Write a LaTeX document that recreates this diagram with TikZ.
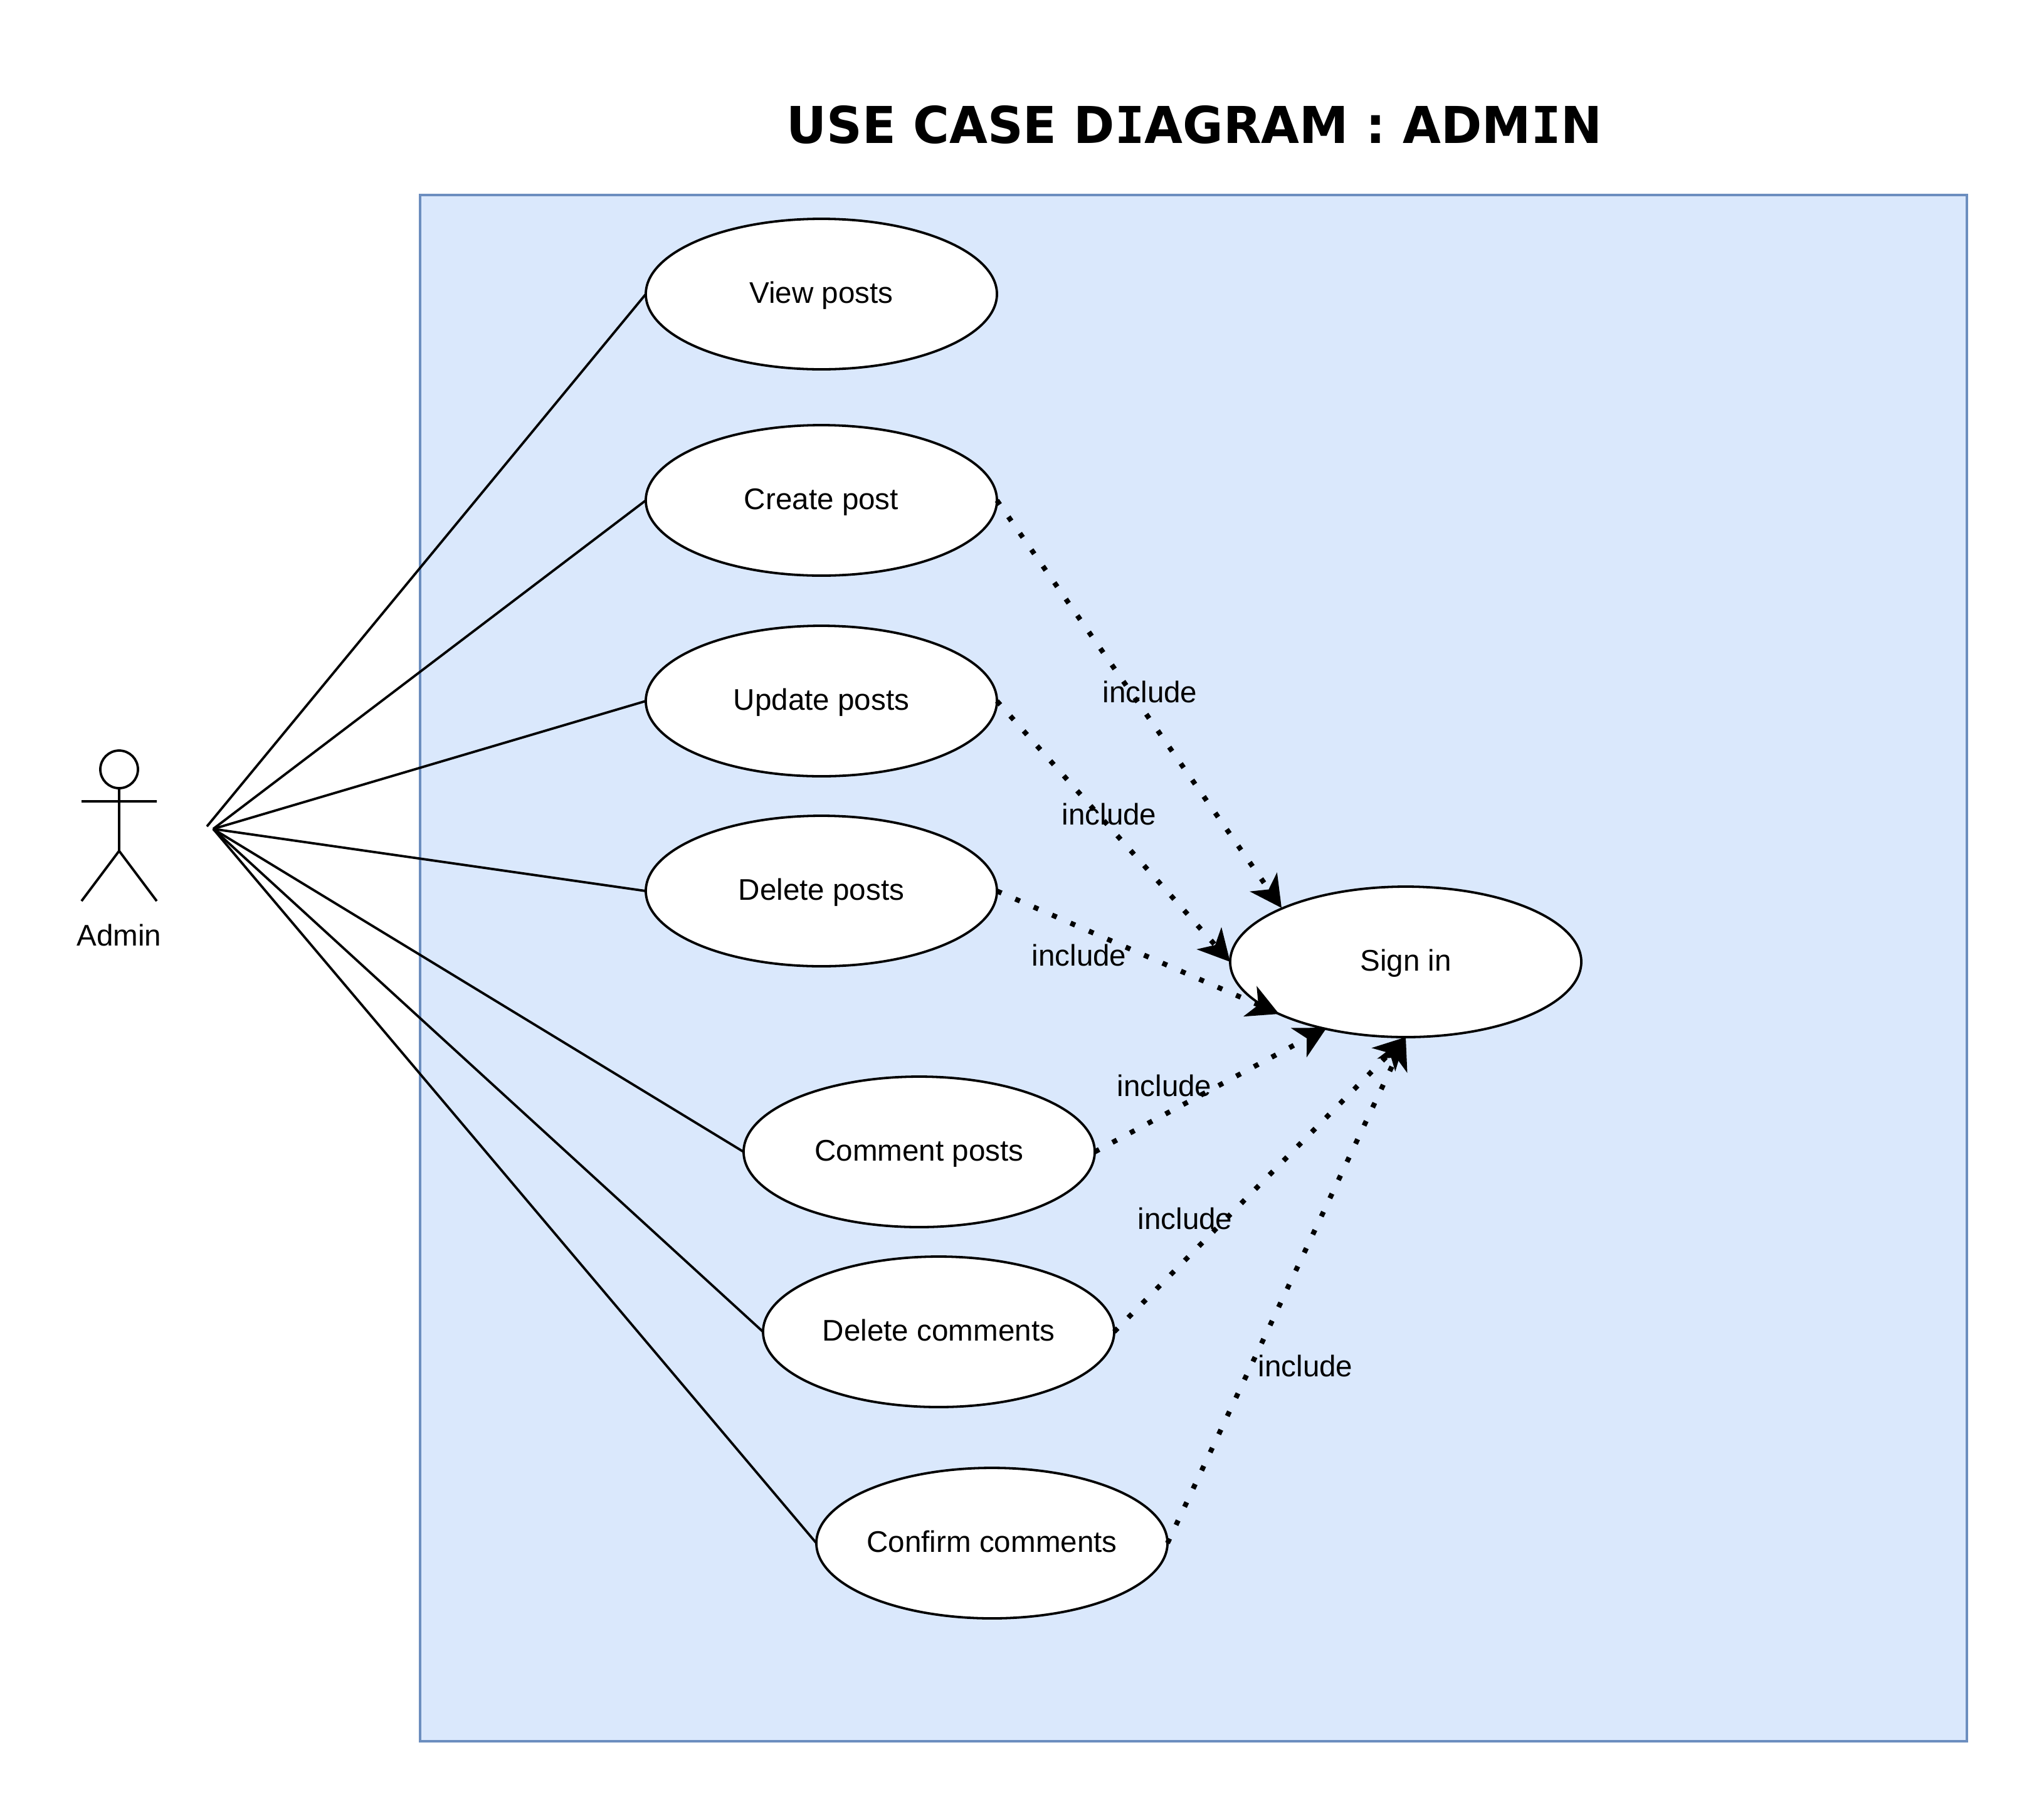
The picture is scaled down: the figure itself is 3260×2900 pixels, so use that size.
\documentclass[tikz,border=0pt]{standalone}
\usepackage{fontspec}
\setmainfont{Liberation Sans}
\newfontfamily\titlefont{DejaVu Sans}[BoldFont={DejaVu Sans Bold}]
\newfontfamily\titlemono{DejaVu Sans Mono}[BoldFont={DejaVu Sans Mono Bold}]
\newcommand{\serifI}{{\titlemono\bfseries I}}
\usetikzlibrary{arrows.meta,shapes.geometric}
\definecolor{boxfill}{HTML}{DAE8FC}
\definecolor{boxline}{HTML}{6C8EBF}
\tikzset{
  usecase/.style={draw, ellipse, fill=white, minimum width=560pt, minimum height=240pt, inner xsep=-20pt, inner ysep=0pt, outer sep=0pt, text height=34pt, text depth=6pt, font=\fontsize{47.6}{56}\selectfont},
  assoc/.style={line width=3.8pt},
  incl/.style={line width=8pt, dash pattern=on 8pt off 24pt, -{Stealth[length=50pt,width=52pt,inset=14pt]}},
  incllabel/.style={font=\fontsize{47.6}{56}\selectfont, inner sep=0pt}
}

\begin{document}
\begin{tikzpicture}[x=1pt, y=-1pt, line width=3.8pt]
        \useasboundingbox (0,0) rectangle (3260,2900);
        \node[font=\titlefont\fontsize{81}{96}\selectfont\bfseries, inner sep=0pt] (title) at (1905,199) {\scalebox{0.972}[1]{USE CASE D\serifI AGRAM : ADM\serifI N}};
        \draw[fill=boxfill, draw=boxline, line width=4pt] (670,311) rectangle (3137,2777);

        % actor
        \coordinate (head) at (190,1227);
        \coordinate (neck) at (190,1258);
        \coordinate (hip) at (190,1357);
        \coordinate (handL) at (130,1278);
        \coordinate (handR) at (250,1278);
        \coordinate (footL) at (130,1437);
        \coordinate (footR) at (250,1437);
        \draw (head) circle [x radius=30, y radius=30];
        \draw (neck)--(hip) (handL)--(handR) (footL)--(hip)--(footR);
        \node[incllabel] (admin) at (190,1491) {Admin};
        \coordinate (actA) at (330,1318);
        \coordinate (actB) at (340,1322);

        \coordinate (tipA) at (2044,1448);
        \coordinate (tipB) at (2040,1617);
        \coordinate (tipC) at (2116,1639);

        \node[usecase] (view) at (1310,469) {View posts};
        \node[usecase] (create) at (1310,798) {Create post};
        \node[usecase] (update) at (1310,1118) {Update posts};
        \node[usecase] (delpost) at (1310,1421) {Delete posts};
        \node[usecase] (comment) at (1466,1837) {Comment posts};
        \node[usecase] (delcom) at (1497,2124) {Delete comments};
        \node[usecase] (confirm) at (1582,2461) {Confirm comments};
        \node[usecase] (signin) at (2242,1534) {Sign in};

        \draw[assoc] (actA)--(view.west);
        \draw[assoc] (actB)--(create.west);
        \draw[assoc] (actB)--(update.west);
        \draw[assoc] (actB)--(delpost.west);
        \draw[assoc] (actB)--(comment.west);
        \draw[assoc] (actB)--(delcom.west);
        \draw[assoc] (actB)--(confirm.west);

        \draw[incl] (create.east)--(tipA);
        \draw[incl] (update.east)--(signin.west);
        \draw[incl] (delpost.east)--(tipB);
        \draw[incl] (comment.east)--(tipC);
        \draw[incl] (delcom.east)--(signin.south);
        \draw[incl] (confirm.east)--(signin.south);

        \node[incllabel] (inclA) at (1834,1103) {include};
        \node[incllabel] (inclB) at (1769,1298) {include};
        \node[incllabel] (inclC) at (1721,1523) {include};
        \node[incllabel] (inclD) at (1857,1731) {include};
        \node[incllabel] (inclE) at (1890,1943) {include};
        \node[incllabel] (inclF) at (2082,2178) {include};
    \end{tikzpicture}
\end{document}
